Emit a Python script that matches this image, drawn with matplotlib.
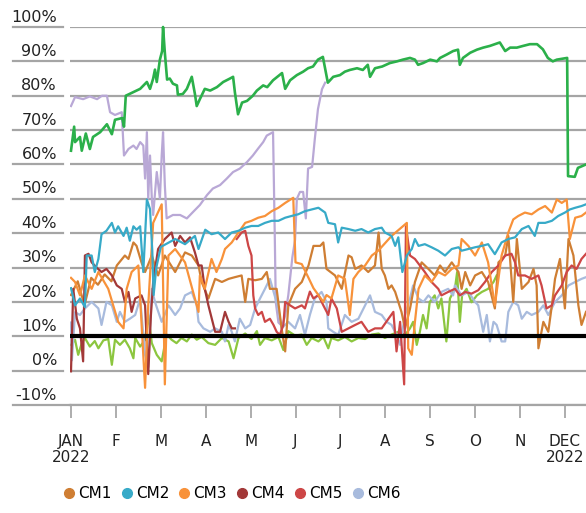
import matplotlib
matplotlib.use('Agg')
import matplotlib.pyplot as plt
import matplotlib.transforms as mtransforms
from matplotlib.lines import Line2D

# every series is (month, percent); month 0 = 1 Jan 2022, months drawn evenly spaced
green_top = [(0.0, 64), (0.07, 71), (0.09, 66.5), (0.2, 68), (0.24, 64), (0.33, 69), (0.42, 64.5),
             (0.49, 68), (0.65, 69.4), (0.8, 71.7), (0.91, 68.8), (0.98, 73), (1.14, 73.5), (1.18, 71),
             (1.22, 80), (1.38, 81), (1.54, 82), (1.69, 84), (1.76, 82), (1.83, 85), (1.87, 87.6),
             (1.91, 84), (1.98, 90.5), (2.03, 93), (2.05, 100), (2.09, 92.5), (2.14, 84.7), (2.2, 85),
             (2.27, 83.5), (2.36, 83), (2.38, 80.3), (2.49, 80.5), (2.58, 82), (2.69, 85.5), (2.76, 80.5),
             (2.8, 77), (2.87, 79), (2.98, 82), (3.1, 81.5), (3.25, 82.5), (3.39, 84), (3.54, 85),
             (3.61, 85.5), (3.65, 81), (3.72, 74.6), (3.81, 78), (3.92, 78.5), (4.05, 80), (4.14, 81.5),
             (4.28, 83), (4.37, 82.5), (4.5, 84.5), (4.7, 86.6), (4.77, 82), (4.88, 84.5), (5.03, 86),
             (5.17, 87), (5.28, 88), (5.39, 88.5), (5.5, 90.5), (5.61, 91.3), (5.72, 83.8), (5.84, 85.5),
             (5.99, 86), (6.1, 87), (6.21, 87.5), (6.37, 88), (6.5, 87.5), (6.61, 89), (6.66, 85.5),
             (6.77, 88), (6.93, 88.5), (7.1, 89.5), (7.26, 90), (7.39, 90.5), (7.55, 91), (7.66, 90.5),
             (7.73, 89), (7.84, 89.5), (8.0, 90.5), (8.15, 90), (8.22, 91), (8.37, 92), (8.51, 93),
             (8.62, 93.4), (8.66, 89), (8.73, 91), (8.89, 92.5), (9.04, 93.4), (9.18, 94), (9.33, 94.5),
             (9.55, 95.5), (9.67, 93), (9.78, 94), (9.93, 94), (10.07, 94.5), (10.22, 95), (10.38, 95),
             (10.51, 93.5), (10.62, 91), (10.73, 90), (10.82, 90.5), (11.05, 91), (11.07, 56.6),
             (11.22, 56.4), (11.29, 59), (11.47, 60)]

lavender = [(0.0, 77), (0.09, 79.6), (0.27, 79), (0.42, 79.8), (0.58, 79), (0.69, 80), (0.8, 80),
            (0.87, 75.2), (0.98, 74.4), (1.13, 75.2), (1.18, 62.6), (1.28, 64.5), (1.39, 65.5),
            (1.46, 64.5), (1.54, 66.5), (1.61, 65.5), (1.65, 55.9), (1.69, 69.4), (1.72, 50.1),
            (1.76, 62.6), (1.8, 50.1), (1.83, 45.3), (1.91, 57.8), (1.98, 50.1), (2.02, 62.6),
            (2.05, 69.4), (2.09, 53.9), (2.13, 44.3), (2.27, 45.3), (2.43, 45.3), (2.58, 44.3),
            (2.72, 46.2), (2.87, 48.2), (3.03, 51.1), (3.16, 53), (3.32, 54), (3.47, 55.9),
            (3.61, 57.8), (3.76, 58.8), (3.92, 60.7), (4.05, 62.6), (4.16, 64.5), (4.28, 66.5),
            (4.36, 68.4), (4.5, 69.4), (4.54, 38), (4.56, 20), (4.62, 14), (4.7, 13), (4.77, 16),
            (4.84, 22), (4.93, 33), (4.99, 38), (5.03, 50), (5.1, 52), (5.17, 52), (5.23, 44.3),
            (5.28, 58.8), (5.37, 59.3), (5.43, 67.4), (5.5, 76.1), (5.59, 81.9), (5.66, 83.8)]

light_green = [(0.0, 7.5), (0.09, 9.0), (0.16, 4.6), (0.24, 8.0), (0.31, 9.5), (0.42, 7.0), (0.53, 8.6),
               (0.61, 6.5), (0.72, 8.8), (0.83, 9.2), (0.91, 1.7), (0.98, 9.0), (1.09, 7.5), (1.2, 9.0),
               (1.31, 6.5), (1.39, 3.6), (1.43, 9.5), (1.54, 7.0), (1.65, 9.0), (1.72, 16.2), (1.8, 8.0),
               (1.91, 4.6), (2.02, 2.7), (2.13, 10.5), (2.24, 9.0), (2.35, 8.0), (2.46, 9.5), (2.58, 8.5),
               (2.69, 10.5), (2.8, 9.0), (2.91, 9.8), (3.06, 8.0), (3.21, 7.5), (3.36, 9.5), (3.51, 8.5),
               (3.62, 3.6), (3.73, 9.5), (3.88, 10.8), (4.02, 9.2), (4.14, 11.5), (4.21, 7.5), (4.32, 9.5),
               (4.47, 8.8), (4.62, 9.8), (4.73, 6.0), (4.84, 11.5), (4.99, 10.2), (5.14, 10.5),
               (5.25, 7.5), (5.36, 9.5), (5.51, 8.5), (5.62, 9.8), (5.73, 6.5), (5.8, 9.5),
               (5.95, 8.8), (6.1, 9.8), (6.25, 8.5), (6.4, 9.5), (6.55, 9.2), (6.7, 10.5), (6.85, 10.8),
               (6.99, 9.5), (7.14, 10.5), (7.29, 11.3), (7.44, 10.4), (7.55, 12.3), (7.62, 14.2),
               (7.7, 7.5), (7.77, 11.3), (7.84, 16.2), (7.92, 12.3), (7.99, 20), (8.1, 21.9), (8.18, 18.1),
               (8.25, 21), (8.36, 8.5), (8.44, 21), (8.55, 23.8), (8.6, 28.7), (8.63, 21), (8.66, 14.2),
               (8.71, 21.9), (8.81, 23.8), (8.92, 19.9), (9.04, 21.9), (9.15, 22.9), (9.29, 23.8),
               (9.41, 25.8), (9.48, 27.7)]

cm1 = [(0.0, 22), (0.15, 26), (0.3, 19), (0.45, 27), (0.6, 25), (0.75, 28), (0.9, 26), (1.02, 30.6),
       (1.2, 33.5), (1.28, 32.5), (1.39, 37.3), (1.46, 36.3), (1.57, 31.5), (1.65, 28.7), (1.8, 33.5),
       (1.94, 27.7), (2.09, 33.5), (2.32, 28.7), (2.54, 34.4), (2.69, 33.5), (2.84, 30.6), (2.91, 25.8),
       (3.06, 21), (3.21, 26.7), (3.36, 25.8), (3.51, 26.7), (3.65, 27.2), (3.8, 27.7), (3.88, 20),
       (3.95, 26.7), (4.1, 26.3), (4.25, 26.7), (4.36, 28.7), (4.43, 23.8), (4.58, 23.8), (4.69, 12.3),
       (4.77, 5.6), (4.84, 19), (4.99, 23.8), (5.14, 25.8), (5.29, 30.6), (5.4, 36.3), (5.55, 36.3),
       (5.62, 37.3), (5.69, 29.6), (5.88, 27.7), (6.03, 23.8), (6.18, 33.5), (6.25, 33), (6.33, 29.6),
       (6.47, 30.6), (6.62, 28.7), (6.77, 30.6), (6.85, 40.2), (6.92, 29.6), (6.99, 27.7), (7.07, 23.8),
       (7.14, 24.8), (7.22, 22.9), (7.29, 20), (7.36, 17.1), (7.44, 12.3), (7.55, 18), (7.66, 25.8),
       (7.81, 31.5), (7.96, 29.6), (8.1, 27.7), (8.22, 30.6), (8.33, 28.7), (8.48, 31.5), (8.63, 28.7),
       (8.7, 23.8), (8.78, 28.7), (8.89, 24.8), (9.0, 27.7), (9.15, 28.7), (9.29, 25.8), (9.44, 18.1),
       (9.52, 31.5), (9.67, 33.5), (9.74, 39.2), (9.85, 20), (9.93, 38.3), (10.04, 23.8), (10.19, 25.8),
       (10.3, 29.6), (10.37, 24.8), (10.41, 6.5), (10.52, 14.2), (10.63, 11.3), (10.71, 19),
       (10.78, 26.7), (10.89, 32.5), (11.0, 18.1), (11.08, 38.3), (11.19, 33.5), (11.3, 19),
       (11.37, 13.3), (11.47, 17.1)]

cm2 = [(0.0, 24), (0.09, 19), (0.2, 21), (0.31, 18.5), (0.35, 33.5), (0.46, 33.5), (0.53, 28.7),
       (0.61, 32.5), (0.68, 39.7), (0.79, 40.7), (0.91, 43), (0.98, 40.2), (1.05, 42), (1.17, 39.2),
       (1.24, 41.6), (1.31, 37.8), (1.39, 42), (1.46, 41), (1.54, 42), (1.61, 28.7), (1.69, 49.8),
       (1.76, 47), (1.81, 35), (1.84, 22), (1.9, 30), (2.0, 36), (2.32, 38.3), (2.54, 36.8),
       (2.76, 39.2), (2.84, 35.4), (2.99, 41), (3.13, 39.7), (3.28, 40.2), (3.43, 38.3), (3.58, 40.2),
       (3.73, 40.7), (3.88, 41.6), (4.02, 42.1), (4.17, 42.1), (4.32, 43), (4.47, 43.6), (4.62, 43.6),
       (4.77, 44.5), (4.91, 45), (5.06, 45.5), (5.21, 46.4), (5.36, 46.9), (5.51, 47.4), (5.66, 46),
       (5.73, 43), (5.88, 42.6), (5.95, 37.3), (6.03, 41.6), (6.18, 41.2), (6.33, 40.7), (6.47, 41.2),
       (6.62, 40.2), (6.77, 41.2), (6.92, 41.6), (6.99, 40.2), (7.14, 39.2), (7.22, 36.3), (7.29, 38.8),
       (7.38, 28.7), (7.48, 33.5), (7.59, 35.4), (7.66, 38.3), (7.74, 36.3), (7.88, 36.8), (8.03, 35.9),
       (8.18, 34.9), (8.33, 33.5), (8.48, 35.4), (8.63, 35.9), (8.7, 34.9), (8.85, 35.4), (9.0, 35.9),
       (9.15, 36.3), (9.29, 36.8), (9.44, 33.9), (9.59, 37.3), (9.74, 38.3), (9.89, 38.8), (10.04, 41.2),
       (10.19, 42.1), (10.33, 39.2), (10.41, 43), (10.56, 43), (10.71, 43.6), (10.85, 45), (11.0, 46),
       (11.11, 46.9), (11.23, 47.4), (11.37, 47.9), (11.47, 48.4)]

cm3 = [(0.0, 27), (0.09, 25.8), (0.2, 21.9), (0.31, 27.7), (0.46, 23.8), (0.61, 28.7), (0.83, 23.8),
       (1.05, 14.2), (1.17, 12.3), (1.24, 23.8), (1.35, 28.7), (1.5, 30.6), (1.65, -5), (1.72, 19),
       (1.83, 43), (2.02, 48.4), (2.09, -4), (2.17, 33.5), (2.32, 35.4), (2.54, 31.5), (2.84, 17.1),
       (2.87, 27.7), (2.98, 23.8), (3.13, 32.5), (3.24, 28.7), (3.36, 32.5), (3.43, 35.4), (3.58, 37.3),
       (3.73, 40.2), (3.88, 43), (4.02, 43.6), (4.17, 44.5), (4.32, 45), (4.47, 46.4), (4.62, 47.4),
       (4.77, 48.8), (4.95, 50.3), (5.0, 31.5), (5.14, 31), (5.29, 27), (5.4, 24), (5.51, 22),
       (5.62, 20), (5.69, 22), (5.8, 21), (5.95, 27.7), (6.1, 26.7), (6.21, 16.2), (6.29, 26.7),
       (6.4, 28.7), (6.55, 30.6), (6.7, 33.5), (6.85, 35), (7.14, 39.2), (7.48, 43), (7.51, 6.5),
       (7.59, 4.6), (7.66, 14.2), (7.74, 23.8), (7.88, 27.7), (8.03, 25.8), (8.18, 28.7), (8.33, 27.7),
       (8.48, 29.6), (8.63, 30.6), (8.7, 38.3), (8.85, 36.3), (9.0, 33.5), (9.15, 37.3), (9.29, 31.5),
       (9.44, 19), (9.59, 33.5), (9.74, 40.2), (9.85, 44), (9.96, 45), (10.11, 46), (10.26, 45.5),
       (10.41, 46.9), (10.56, 47.9), (10.71, 46), (10.82, 49.8), (10.93, 48.8), (11.04, 49.8),
       (11.11, 38.3), (11.23, 44.5), (11.37, 45), (11.47, 46)]

cm4 = [(0.0, -0.2), (0.05, 23.8), (0.13, 15.1), (0.2, 12.3), (0.27, 2.7), (0.31, 33.5), (0.39, 34),
       (0.46, 31.5), (0.57, 30), (0.68, 28.7), (0.79, 29.6), (0.91, 27.7), (1.02, 24.8), (1.13, 23.8),
       (1.2, 20), (1.28, 22.9), (1.35, 17.1), (1.43, 21), (1.57, 21.9), (1.65, 19), (1.72, -1),
       (1.78, 16.2), (1.83, 25.8), (1.94, 35.4), (2.09, 38.3), (2.24, 40.2), (2.32, 36.3), (2.43, 39.2),
       (2.54, 37.3), (2.65, 38.8), (2.76, 34.4), (2.84, 30.6), (2.91, 30.6), (2.98, 23.8), (3.06, 19),
       (3.21, 11.3), (3.32, 11.3), (3.43, 17.1), (3.51, 14.2), (3.58, 12.3), (3.65, 12.3)]

cm5 = [(3.69, 38.3), (3.8, 40.2), (3.88, 40.7), (3.95, 36.3), (4.02, 33.5), (4.06, 21.9), (4.1, 18.1),
       (4.17, 16.2), (4.25, 17.1), (4.32, 14.2), (4.43, 15.1), (4.51, 13.3), (4.58, 11.3), (4.65, 10.4),
       (4.73, 13.3), (4.77, 20), (4.88, 19), (4.99, 18.1), (5.14, 19), (5.21, 18.1), (5.32, 23),
       (5.4, 21), (5.51, 22), (5.62, 19), (5.73, 16.2), (5.8, 21), (5.92, 18.1), (6.03, 11.3),
       (6.18, 12.3), (6.33, 13.3), (6.47, 14.2), (6.62, 11.3), (6.77, 12.3), (6.92, 12.3), (7.07, 15.1),
       (7.18, 17.1), (7.25, 5.6), (7.33, 14.2), (7.42, -4), (7.46, 42), (7.55, 33.5), (7.66, 32.5),
       (7.77, 30.6), (7.88, 28.7), (8.03, 25.8), (8.18, 23.8), (8.25, 21.9), (8.4, 22.9), (8.55, 23.8),
       (8.66, 21.9), (8.78, 22.9), (8.92, 22.4), (9.07, 23.4), (9.22, 25.8), (9.37, 28.7), (9.52, 30.6),
       (9.67, 33.5), (9.81, 34), (9.89, 31.5), (9.96, 27.7), (10.11, 27.7), (10.26, 26.7), (10.41, 27.7),
       (10.48, 24.8), (10.59, 18.1), (10.71, 19), (10.78, 21.9), (10.93, 24.8), (11.04, 28.7),
       (11.15, 30.6), (11.26, 29.6), (11.37, 32.5), (11.47, 34)]

cm6 = [(0.0, 14), (0.02, 3), (0.09, 17), (0.2, 16.2), (0.31, 18.1), (0.46, 20), (0.61, 18.1), (0.68, 13.3),
       (0.79, 20), (0.91, 19), (1.02, 14.2), (1.09, 17.1), (1.2, 14.2), (1.31, 15.1), (1.43, 16.2),
       (1.54, 21), (1.65, 4.6), (1.72, 1.0), (1.8, 23.8), (1.87, 20), (2.02, 14.2), (2.17, 19),
       (2.32, 16.2), (2.43, 18.1), (2.54, 21.9), (2.69, 22.9), (2.8, 19), (2.84, 14.2), (2.95, 12.3),
       (3.1, 11.3), (3.21, 12.3), (3.36, 11.3), (3.43, 8.5), (3.51, 13.3), (3.58, 11.3), (3.65, 8.5),
       (3.76, 15.1), (3.88, 12.3), (3.99, 13.3), (4.1, 18.1), (4.21, 21), (4.32, 23.8), (4.43, 26.7),
       (4.62, 18), (4.69, 12.3), (4.84, 14.2), (4.99, 12.3), (5.1, 16.2), (5.21, 10.4), (5.32, 16.2),
       (5.43, 21), (5.58, 22.9), (5.69, 20), (5.73, 12.3), (5.84, 11.3), (5.95, 10.4), (6.1, 16.2),
       (6.25, 14.2), (6.4, 15.1), (6.55, 19), (6.66, 21.9), (6.77, 17.1), (6.92, 16.2), (7.03, 14.2),
       (7.14, 13.3), (7.25, 10.4), (7.33, 7.5), (7.44, 16.2), (7.55, 21), (7.62, 24.8), (7.74, 21),
       (7.85, 20), (7.96, 21.9), (8.1, 20), (8.25, 22.9), (8.4, 23.8), (8.51, 21.9), (8.55, 24.8),
       (8.7, 21.9), (8.85, 22.9), (9.0, 20), (9.07, 19), (9.18, 11.3), (9.26, 16.2), (9.33, 8.5),
       (9.41, 14.2), (9.48, 13.3), (9.59, 8.5), (9.67, 8.5), (9.74, 17.1), (9.85, 20), (9.96, 19),
       (10.04, 15.1), (10.15, 17.1), (10.26, 16.2), (10.41, 17.1), (10.52, 19), (10.63, 16.2),
       (10.78, 20), (10.93, 21.9), (11.08, 24.8), (11.23, 25.8), (11.37, 26.7), (11.47, 27.2)]

threshold = 10

month_labels = ['JAN\n2022', 'F', 'M', 'A', 'M', 'J', 'J', 'A', 'S', 'O', 'N', 'DEC\n2022']
y_ticks = [-10, 0, 10, 20, 30, 40, 50, 60, 70, 80, 90, 100]

legend_names = ['CM1', 'CM2', 'CM3', 'CM4', 'CM5', 'CM6']
legend_colors = ['#cf7e33', '#37aac8', '#f8923a', '#a23838', '#cd4646', '#a8bbdd']

W, H = 586, 513
fig = plt.figure(figsize=(W / 100, H / 100), dpi=100)
ax = fig.add_axes([70 / W, 1 - 405 / H, 516 / W, 378 / H])

def draw(series, color, z=2, lw=1.6, clip=True):
    t, v = zip(*series)
    ax.plot(t, v, color=color, lw=lw, zorder=z, solid_joinstyle='round', clip_on=clip)

draw(lavender, '#b9a8d6', z=2)
draw(light_green, '#8cc63f', z=2)
draw(cm6, legend_colors[5], z=2.1)
draw(cm1, legend_colors[0], z=2.2)
draw(cm5, legend_colors[4], z=2.3)
draw(cm4, legend_colors[3], z=2.3)
draw(cm3, legend_colors[2], z=2.4)
draw(cm2, legend_colors[1], z=2.5)
draw(green_top, '#2bb04a', z=3, lw=1.9, clip=False)
ax.axhline(threshold, color='black', lw=3, zorder=5)

ax.set_xlim(-1 / 44.9, -1 / 44.9 + 516 / 44.9)
ax.set_ylim(-10, 100)
ax.set_yticks(y_ticks)
ax.yaxis.grid(True, color='#a5a5a5', lw=1.6, zorder=0)
ax.set_axisbelow(True)
ax.tick_params(axis='y', length=0, labelleft=False)
ax.set_xticks(range(12))
ax.set_xticklabels(month_labels, fontsize=11, color='#222222', linespacing=1.1)
ax.tick_params(axis='x', length=9, width=1.2, color='#a0a0a0', pad=12)
for s in ['top', 'right', 'left']:
    ax.spines[s].set_visible(False)
ax.spines['bottom'].set_color('#a5a5a5')
ax.spines['bottom'].set_linewidth(1.6)

# y labels sit on short rules left of the plot
trans = mtransforms.blended_transform_factory(fig.transFigure, ax.transData)
for v in y_ticks:
    x_end = 70 / W if v == -10 else 63 / W
    ax.plot([13 / W, x_end], [v, v], transform=trans, color='#a5a5a5', lw=1.6, clip_on=False)
    ax.text(57 / W, v + 0.7, f'{v}%', transform=trans, ha='right', va='bottom',
            fontsize=11.5, color='#222222')

handles = [Line2D([], [], marker='o', ls='', color=c, markersize=7) for c in legend_colors]
fig.legend(handles, legend_names, loc='center left', bbox_to_anchor=(55 / W, 19 / H), ncol=6,
           frameon=False, fontsize=11, handletextpad=0.1, columnspacing=0.5, handlelength=1.0,
           borderaxespad=0)

fig.savefig('out.png', dpi=100)
